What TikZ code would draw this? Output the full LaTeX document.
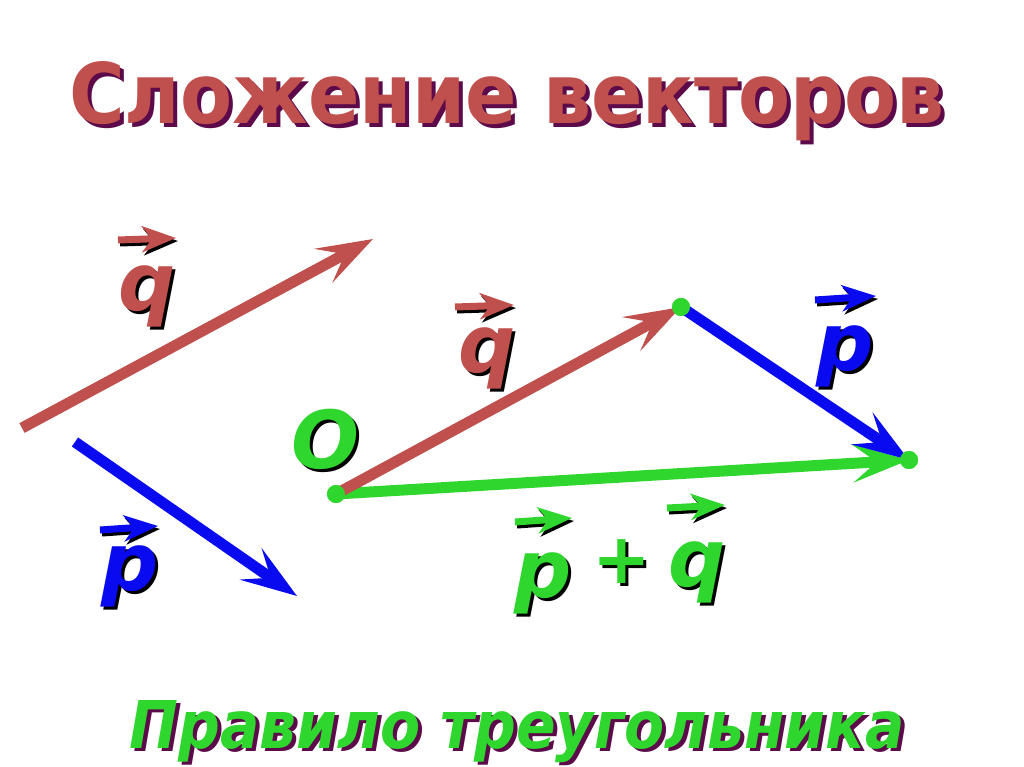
\documentclass[tikz,border=0pt]{standalone}
\usepackage{fontspec}
\setmainfont{DejaVu Sans}
\usetikzlibrary{arrows.meta}
\definecolor{qred}{HTML}{C0504D}
\definecolor{pblue}{HTML}{0A0AF0}
\definecolor{sgreen}{HTML}{2ED62E}
\definecolor{shpurple}{HTML}{5C0A4A}
\begin{document}
\begin{tikzpicture}[x=1pt,y=-1pt,
  vec/.style={line width=11pt, -{Stealth[length=56pt,width=38pt,inset=24pt]}},
  ovr/.style={line width=7pt, -{Stealth[length=34pt,width=26pt,inset=10pt]}},
  lab/.style={inner sep=0pt, anchor=base, font=\fontsize{80}{80}\selectfont\bfseries\itshape},
  olab/.style={inner sep=0pt, anchor=base, font=\fontsize{80}{80}\selectfont\bfseries\itshape},
  pluslab/.style={inner sep=0pt, anchor=base, font=\fontsize{70}{70}\selectfont\bfseries},
  dot/.style={circle, fill=sgreen, inner sep=0pt, minimum size=18pt}]
\fill[white] (0,0) rectangle (1024,767);
\useasboundingbox (0,0) rectangle (1024,767);
% title
\node[inner sep=0pt, anchor=base, text=shpurple] at (511,128) {\resizebox{875pt}{62pt}{\bfseries Сложение векторов}};
\node[inner sep=0pt, anchor=base, text=qred] (title) at (507,124) {\resizebox{875pt}{62pt}{\bfseries Сложение векторов}};
% bottom
\node[inner sep=0pt, anchor=base, text=shpurple] at (521,751) {\resizebox{775pt}{48pt}{\bfseries\itshape Правило треугольника}};
\node[inner sep=0pt, anchor=base, text=sgreen] (rule) at (517,748) {\resizebox{775pt}{48pt}{\bfseries\itshape Правило треугольника}};
% free vectors
\coordinate (qs) at (22,428); \coordinate (qe) at (373,239);
\coordinate (ps) at (75,442); \coordinate (pe) at (297,596);
\draw[vec, qred] (qs) -- (qe);
\draw[vec, pblue] (ps) -- (pe);
% triangle
\node[dot] (O) at (336,494) {};
\node[dot] (A) at (681,307) {};
\node[dot] (B) at (909,460) {};
\draw[vec, sgreen, shorten >=-9pt] (O.center) -- (B);
\draw[vec, qred, shorten >=-9pt] (O.center) -- (A);
\draw[vec, pblue, shorten >=-9pt] (A.center) -- (B);
\node[dot] at (O) {};
\node[dot] at (A) {};
\node[dot] at (B) {};
% labels: shadows
\node[lab, text=black] at (150,313) {q};
\node[lab, text=black] at (133,593) {p};
\node[lab, text=black] at (490,375) {q};
\node[lab, text=black] at (848,373) {p};
\node[olab, text=black] at (328,471) {O};
\node[lab, text=black] at (546,600) {p};
\node[pluslab, text=black] at (625,586) {+};
\node[lab, text=black] at (700,589) {q};
\draw[ovr, black] (120,243) -- (178,241);
\draw[ovr, black] (102,533) -- (160,529);
\draw[ovr, black] (457,310) -- (516,308);
\draw[ovr, black] (817,303) -- (878,299);
\draw[ovr, black] (517,525) -- (574,521);
\draw[ovr, black] (669,511) -- (727,508);
% labels
\node[lab, text=qred] (qL) at (147,310) {q};
\node[lab, text=pblue] (pL) at (130,590) {p};
\node[lab, text=qred] (qM) at (487,372) {q};
\node[lab, text=pblue] (pR) at (845,370) {p};
\node[olab, text=sgreen] (Olab) at (325,468) {O};
\node[lab, text=sgreen] (pS) at (543,597) {p};
\node[pluslab, text=sgreen] (plus) at (622,583) {+};
\node[lab, text=sgreen] (qS) at (697,586) {q};
\draw[ovr, qred] (118,240) -- (176,238);
\draw[ovr, pblue] (100,530) -- (158,526);
\draw[ovr, qred] (455,307) -- (514,305);
\draw[ovr, pblue] (815,300) -- (876,296);
\draw[ovr, sgreen] (515,522) -- (572,518);
\draw[ovr, sgreen] (667,508) -- (725,505);
\end{tikzpicture}
\end{document}
